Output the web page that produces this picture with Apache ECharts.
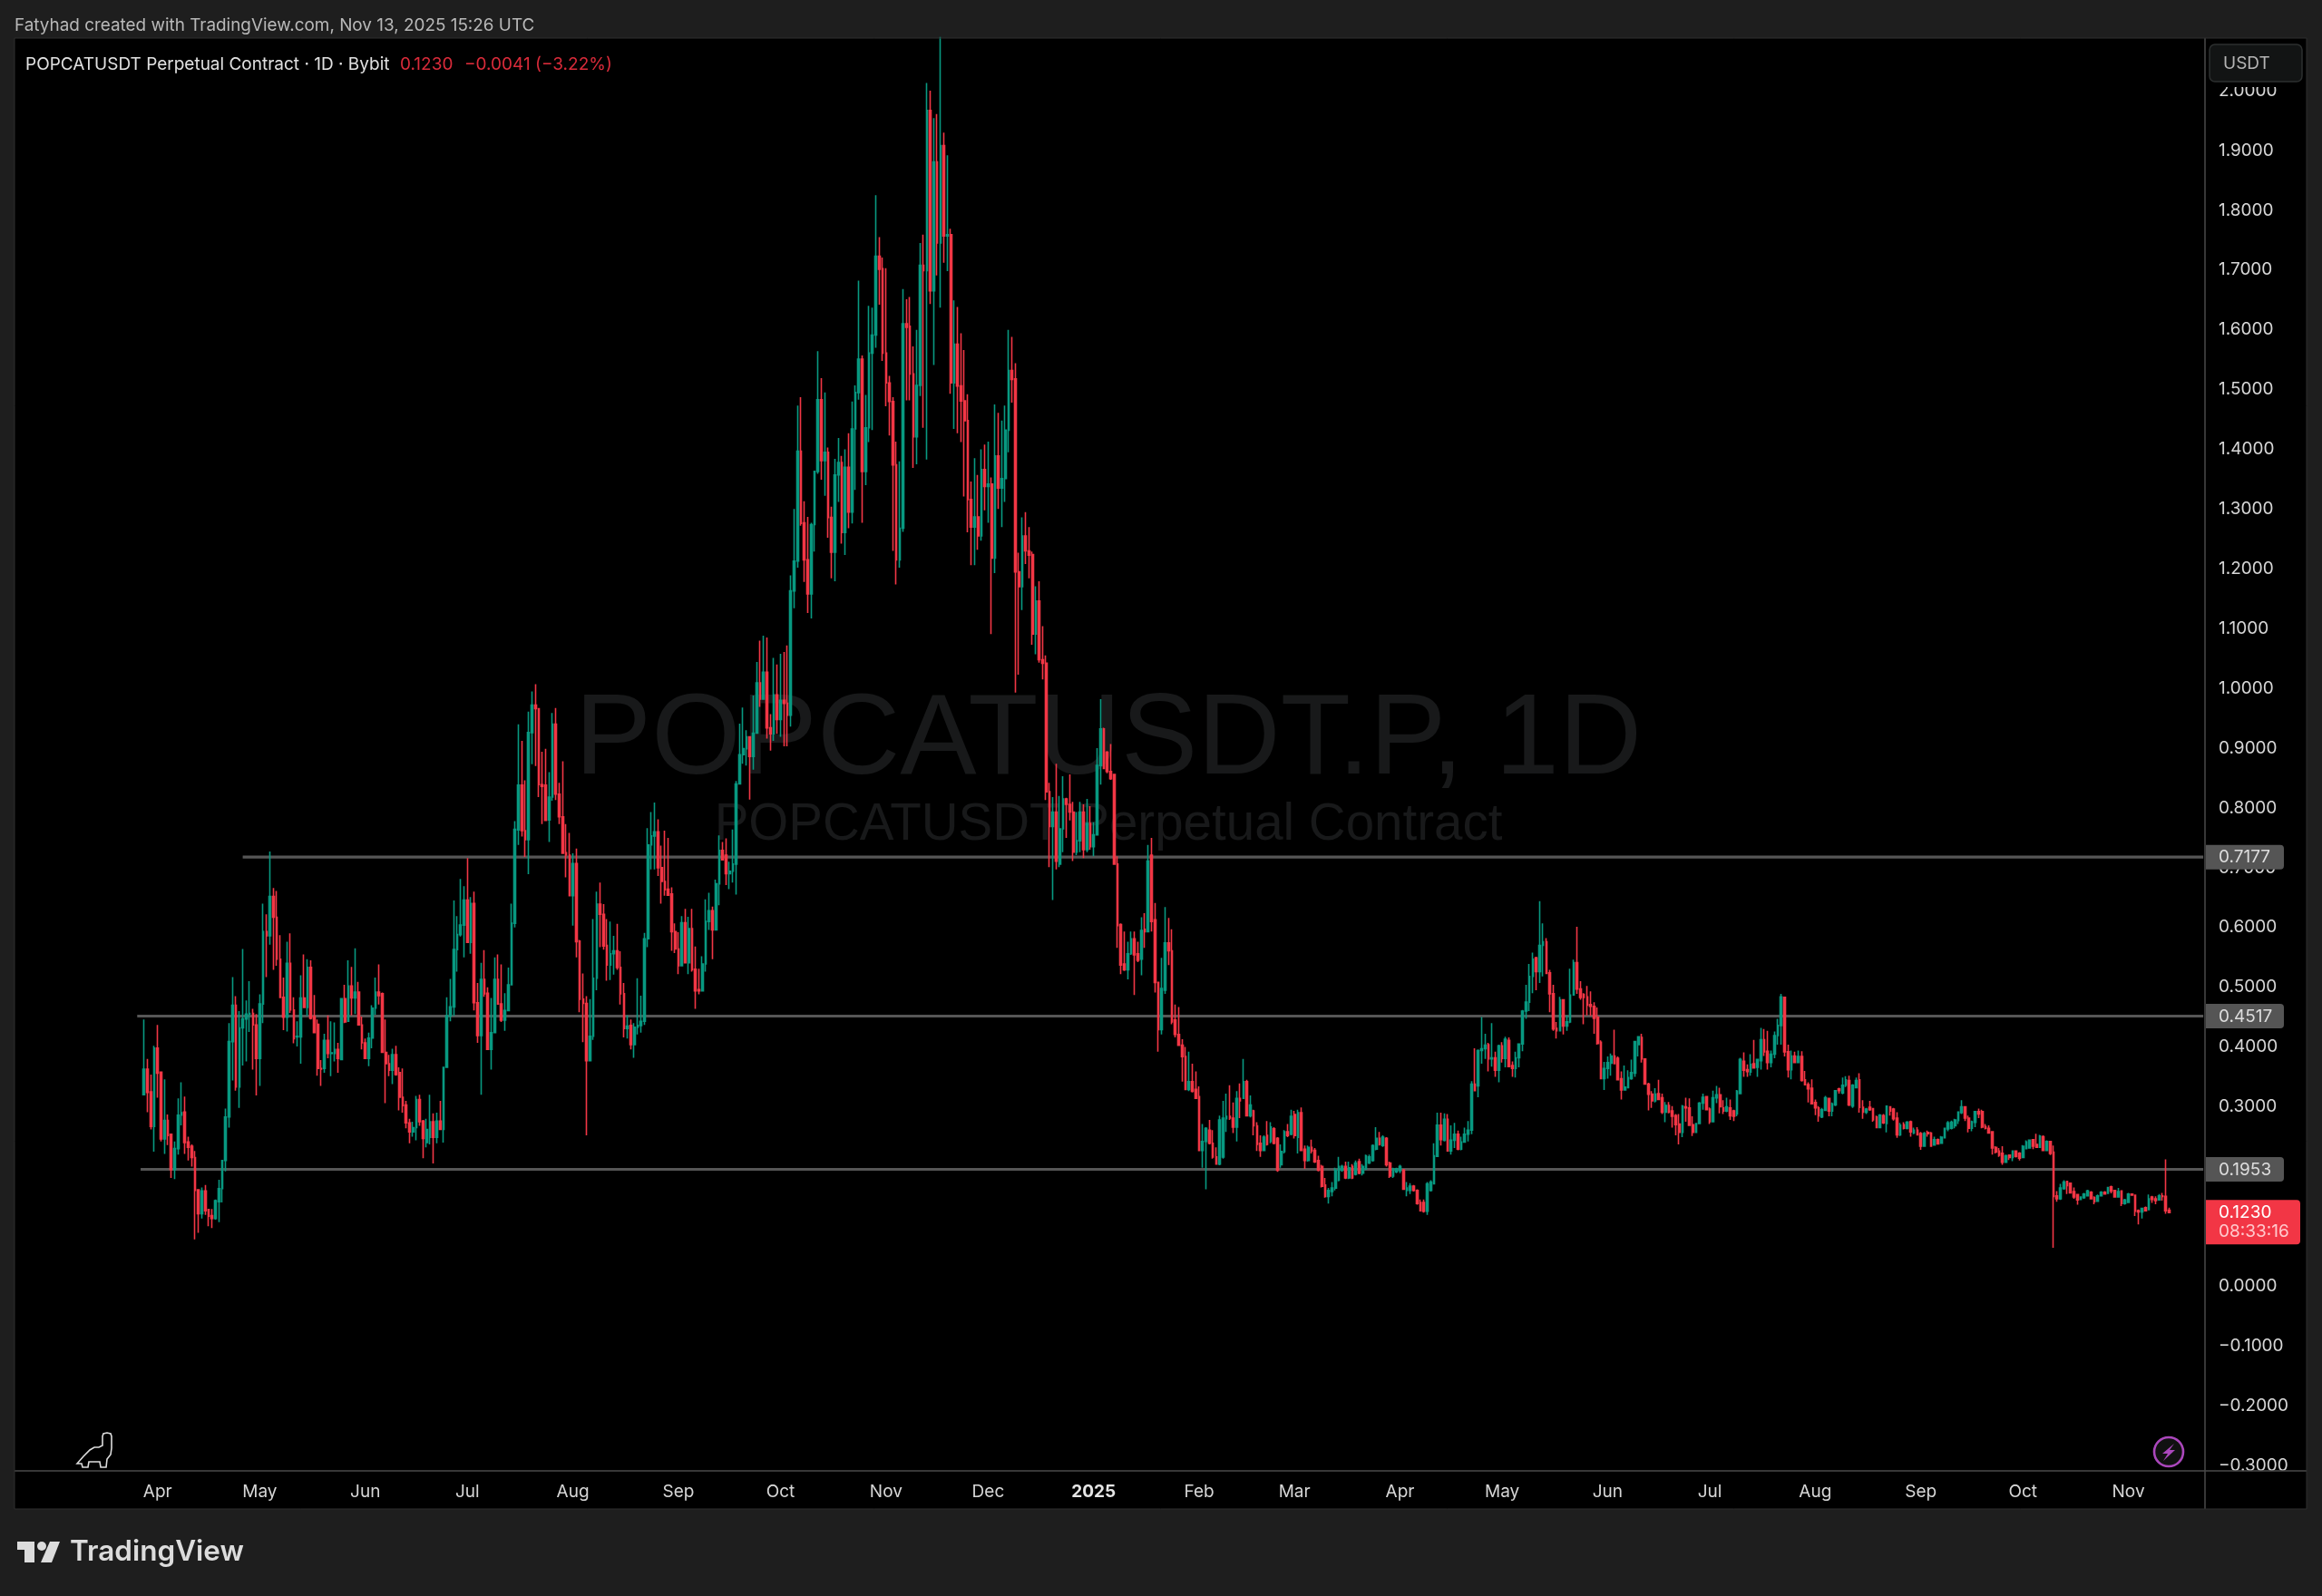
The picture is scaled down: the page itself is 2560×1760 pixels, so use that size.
<!DOCTYPE html>
<html><head><meta charset="utf-8">
<style>html,body{margin:0;padding:0;background:#1e1e1e}#c{width:2560px;height:1760px}</style>
<script src="https://cdn.jsdelivr.net/npm/echarts@6/dist/echarts.min.js"></script>
</head><body><div id="c"></div>
<script>
// each row: [open, close, low, high]
const mar24=[[.32,.363,.32,.446],[.363,.324,.291,.38],[.325,.267,.262,.354],[.267,.398,.225,.402]];
const apr24=[[.398,.356,.315,.437],[.358,.246,.242,.358],[.246,.277,.221,.346],[.277,.252,.236,.287],[.254,.195,.181,.254],[.195,.23,.179,.242],[.23,.286,.22,.314],[.286,.29,.269,.341],[.291,.24,.221,.317],[.241,.232,.21,.25],[.234,.215,.2,.237],[.215,.16,.078,.226],[.161,.121,.089,.161],[.121,.159,.113,.165],[.159,.126,.119,.169],[.128,.117,.1,.129],[.118,.113,.097,.129],[.113,.143,.111,.145],[.141,.163,.107,.178],[.163,.21,.14,.21],[.21,.283,.192,.297],[.283,.409,.265,.44],[.409,.47,.344,.517],[.47,.333,.327,.485],[.333,.432,.298,.46],[.432,.447,.369,.564],[.447,.455,.376,.478],[.455,.456,.425,.51],[.456,.437,.362,.464],[.437,.381,.319,.455]];
const may24=[[.381,.472,.335,.488],[.472,.593,.44,.64],[.593,.586,.517,.622],[.586,.652,.571,.727],[.652,.617,.529,.666],[.617,.547,.536,.661],[.547,.483,.483,.587],[.483,.45,.428,.516],[.45,.54,.426,.576],[.54,.462,.457,.59],[.462,.414,.406,.483],[.417,.418,.401,.443],[.417,.482,.372,.52],[.482,.466,.466,.555],[.466,.533,.452,.547],[.533,.448,.446,.545],[.451,.424,.423,.487],[.438,.364,.352,.446],[.364,.363,.335,.378],[.364,.411,.357,.422],[.411,.389,.381,.453],[.389,.39,.351,.443],[.389,.396,.376,.441],[.396,.381,.357,.407],[.379,.481,.379,.481],[.481,.442,.44,.504],[.443,.502,.442,.545],[.502,.482,.453,.534],[.482,.492,.455,.565],[.492,.437,.436,.509],[.437,.407,.396,.451]];
const jun24=[[.407,.381,.381,.414],[.381,.415,.368,.424],[.415,.465,.398,.47],[.465,.492,.454,.516],[.492,.486,.471,.538],[.489,.391,.391,.491],[.391,.372,.306,.446],[.372,.361,.351,.387],[.361,.387,.338,.397],[.387,.354,.352,.402],[.357,.316,.294,.366],[.316,.302,.29,.364],[.303,.273,.264,.31],[.273,.258,.239,.28],[.258,.265,.25,.275],[.265,.312,.244,.318],[.312,.275,.268,.32],[.276,.247,.214,.278],[.24,.262,.232,.28],[.249,.275,.237,.32],[.275,.249,.205,.289],[.249,.276,.239,.29],[.276,.262,.261,.31],[.262,.366,.24,.366],[.366,.452,.366,.483],[.452,.467,.443,.514],[.467,.563,.452,.645],[.563,.588,.526,.619],[.588,.604,.585,.681],[.604,.646,.55,.669]];
const jul24=[[.646,.575,.574,.716],[.575,.64,.556,.651],[.64,.474,.461,.66],[.474,.419,.407,.507],[.419,.513,.32,.541],[.513,.489,.484,.562],[.49,.396,.395,.5],[.396,.424,.362,.482],[.424,.513,.423,.55],[.513,.472,.472,.555],[.472,.445,.442,.538],[.445,.461,.427,.49],[.461,.504,.461,.533],[.504,.607,.504,.64],[.607,.764,.6,.778],[.763,.838,.738,.94],[.838,.762,.752,.912],[.762,.747,.718,.846],[.747,.926,.689,.961],[.926,.972,.873,.995],[.972,.966,.87,1.007],[.966,.839,.818,.966],[.839,.836,.773,.894],[.838,.779,.779,.899],[.78,.818,.743,.86],[.818,.94,.812,.959],[.94,.823,.813,.967],[.823,.785,.773,.842],[.785,.724,.724,.878],[.725,.721,.684,.773],[.721,.653,.653,.758]];
const aug24=[[.653,.707,.603,.724],[.707,.576,.55,.732],[.577,.48,.458,.579],[.48,.473,.408,.523],[.473,.377,.252,.485],[.377,.418,.377,.48],[.418,.515,.412,.614],[.515,.639,.495,.66],[.639,.622,.567,.675],[.622,.569,.563,.639],[.57,.537,.511,.614],[.537,.556,.512,.61],[.556,.561,.521,.586],[.561,.533,.529,.606],[.533,.489,.471,.56],[.489,.431,.416,.507],[.431,.435,.414,.453],[.436,.404,.396,.446],[.404,.433,.382,.44],[.433,.436,.421,.515],[.436,.443,.424,.486],[.443,.581,.437,.591],[.581,.738,.567,.766],[.738,.753,.697,.793],[.753,.76,.697,.809],[.76,.7,.686,.781],[.7,.677,.64,.737],[.677,.663,.653,.762],[.664,.654,.653,.75],[.656,.593,.561,.667],[.593,.564,.557,.607]];
const sep24=[[.564,.536,.522,.592],[.536,.608,.535,.619],[.608,.541,.54,.631],[.541,.598,.522,.618],[.598,.529,.526,.631],[.53,.494,.464,.568],[.496,.494,.488,.531],[.494,.539,.494,.552],[.539,.61,.526,.647],[.61,.628,.596,.658],[.628,.596,.547,.635],[.596,.673,.596,.68],[.673,.729,.637,.754],[.729,.713,.713,.743],[.721,.69,.671,.749],[.69,.694,.664,.71],[.694,.706,.675,.764],[.706,.84,.655,.845],[.84,.889,.84,.941],[.889,.899,.874,.968],[.899,.919,.871,.93],[.919,.886,.814,.919],[.886,.925,.864,.988],[.925,1.009,.925,1.044],[1.009,.982,.969,1.08],[.982,1.027,.982,1.088],[1.027,.934,.916,1.085],[.934,.924,.896,.957],[.924,.989,.912,1.051],[.989,.948,.924,1.04]];
const oct24=[[.948,.98,.919,1.058],[.98,.975,.903,1.061],[.975,.955,.903,1.072],[.955,1.163,.936,1.189],[1.163,1.213,1.134,1.3],[1.213,1.397,1.202,1.473],[1.397,1.276,1.272,1.487],[1.277,1.215,1.178,1.313],[1.215,1.158,1.126,1.287],[1.158,1.274,1.117,1.277],[1.274,1.363,1.229,1.363],[1.363,1.483,1.359,1.564],[1.483,1.381,1.349,1.519],[1.381,1.395,1.322,1.495],[1.395,1.286,1.252,1.403],[1.286,1.228,1.184,1.304],[1.228,1.357,1.179,1.384],[1.357,1.378,1.312,1.419],[1.378,1.261,1.242,1.389],[1.261,1.37,1.223,1.4],[1.37,1.295,1.268,1.427],[1.295,1.434,1.276,1.48],[1.434,1.495,1.332,1.507],[1.495,1.551,1.483,1.682],[1.551,1.363,1.277,1.557],[1.363,1.436,1.34,1.491],[1.436,1.561,1.412,1.64],[1.561,1.591,1.432,1.637],[1.591,1.723,1.57,1.825],[1.723,1.701,1.642,1.755],[1.702,1.561,1.548,1.721]];
const nov24=[[1.561,1.511,1.472,1.703],[1.511,1.48,1.423,1.523],[1.48,1.374,1.23,1.487],[1.374,1.215,1.174,1.413],[1.215,1.268,1.202,1.38],[1.268,1.61,1.262,1.668],[1.61,1.604,1.482,1.651],[1.606,1.526,1.482,1.655],[1.526,1.421,1.369,1.572],[1.421,1.507,1.375,1.6],[1.507,1.708,1.489,1.745],[1.708,1.699,1.436,1.759],[1.699,1.967,1.383,2.013],[1.967,1.665,1.643,2],[1.665,1.881,1.541,1.954],[1.881,1.745,1.691,1.961],[1.745,1.908,1.637,2.09],[1.908,1.757,1.712,1.93],[1.757,1.759,1.698,1.892],[1.759,1.511,1.493,1.769],[1.511,1.576,1.434,1.649],[1.576,1.506,1.427,1.638],[1.506,1.481,1.412,1.594],[1.481,1.448,1.321,1.566],[1.448,1.316,1.261,1.492],[1.316,1.27,1.206,1.346],[1.27,1.287,1.206,1.385],[1.287,1.255,1.232,1.357],[1.255,1.366,1.247,1.4],[1.366,1.338,1.298,1.408]];
const dec24=[[1.338,1.342,1.277,1.413],[1.342,1.218,1.091,1.353],[1.218,1.389,1.193,1.475],[1.389,1.335,1.3,1.461],[1.335,1.351,1.27,1.448],[1.351,1.432,1.312,1.473],[1.432,1.532,1.395,1.6],[1.532,1.517,1.478,1.588],[1.518,1.195,.993,1.544],[1.195,1.17,1.023,1.227],[1.17,1.255,1.131,1.286],[1.255,1.23,1.208,1.295],[1.23,1.223,1.184,1.27],[1.224,1.091,1.073,1.229],[1.091,1.146,1.057,1.171],[1.146,1.048,1.043,1.179],[1.048,1.042,1.015,1.104],[1.042,.827,.813,1.055],[.827,.769,.701,.842],[.769,.793,.646,.818],[.793,.711,.697,.874],[.706,.765,.701,.82],[.765,.815,.726,.853],[.815,.806,.75,.817],[.806,.793,.779,.856],[.793,.726,.711,.81],[.726,.745,.721,.793],[.745,.793,.726,.81],[.793,.73,.716,.806],[.73,.774,.726,.815],[.774,.735,.73,.803]];
const jan25=[[.735,.755,.719,.776],[.755,.871,.755,.9],[.871,.932,.839,.982],[.932,.866,.866,.934],[.893,.861,.858,.895],[.861,.849,.847,.907],[.856,.706,.706,.856],[.706,.603,.566,.719],[.605,.537,.522,.607],[.539,.529,.527,.593],[.529,.556,.513,.576],[.556,.581,.554,.593],[.581,.554,.487,.593],[.556,.545,.542,.576],[.547,.595,.52,.617],[.597,.593,.566,.624],[.593,.711,.593,.738],[.721,.61,.593,.75],[.613,.508,.491,.641],[.508,.429,.392,.508],[.429,.498,.421,.549],[.495,.574,.489,.634],[.574,.561,.537,.616],[.561,.442,.438,.597],[.445,.421,.416,.471],[.421,.403,.402,.467],[.403,.384,.342,.413],[.384,.329,.329,.4],[.329,.342,.326,.392],[.342,.326,.324,.372],[.329,.314,.313,.359]];
const feb25=[[.317,.227,.227,.334],[.227,.242,.198,.271],[.242,.264,.162,.266],[.261,.239,.237,.278],[.239,.216,.213,.261],[.216,.204,.203,.232],[.204,.278,.202,.285],[.216,.281,.213,.31],[.28,.284,.258,.322],[.284,.281,.278,.336],[.281,.266,.256,.307],[.266,.314,.242,.326],[.314,.31,.281,.339],[.314,.342,.313,.38],[.342,.285,.284,.345],[.285,.303,.282,.319],[.293,.268,.252,.295],[.268,.237,.226,.274],[.239,.227,.216,.252],[.227,.249,.226,.252],[.252,.237,.235,.276],[.242,.266,.239,.274],[.263,.239,.237,.266],[.247,.194,.191,.249],[.203,.225,.198,.237],[.225,.258,.222,.261],[.258,.252,.249,.271],[.254,.284,.252,.295]];
const mar25=[[.287,.252,.247,.293],[.249,.29,.222,.295],[.29,.227,.227,.299],[.229,.21,.196,.235],[.21,.232,.208,.235],[.232,.226,.222,.245],[.227,.208,.206,.231],[.21,.194,.192,.218],[.2,.167,.165,.203],[.169,.15,.148,.181],[.15,.16,.138,.164],[.158,.164,.15,.174],[.164,.194,.16,.198],[.177,.2,.175,.216],[.194,.2,.191,.203],[.2,.181,.179,.208],[.181,.198,.179,.208],[.2,.181,.179,.204],[.187,.206,.185,.21],[.208,.189,.187,.213],[.189,.2,.185,.204],[.196,.218,.194,.22],[.206,.216,.204,.22],[.21,.235,.208,.237],[.229,.247,.227,.266],[.247,.237,.235,.258],[.235,.249,.233,.252],[.247,.203,.2,.249],[.206,.184,.181,.208],[.184,.196,.181,.198],[.191,.196,.189,.198]];
const apr25=[[.193,.2,.189,.203],[.194,.162,.162,.196],[.16,.164,.15,.174],[.16,.167,.154,.172],[.167,.16,.158,.169],[.16,.138,.136,.162],[.14,.126,.125,.145],[.14,.125,.123,.145],[.125,.171,.119,.174],[.16,.174,.158,.177],[.171,.218,.171,.239],[.217,.269,.217,.29],[.269,.245,.235,.29],[.244,.279,.242,.289],[.279,.226,.225,.288],[.226,.244,.22,.269],[.244,.254,.231,.273],[.254,.229,.227,.26],[.229,.241,.227,.25],[.241,.254,.24,.265],[.254,.261,.242,.276],[.261,.338,.254,.343],[.338,.327,.327,.398],[.335,.394,.316,.396],[.394,.397,.372,.45],[.397,.403,.38,.422],[.404,.38,.359,.407],[.38,.382,.367,.44],[.382,.361,.35,.392],[.361,.402,.341,.404]];
const may25=[[.402,.381,.374,.408],[.381,.413,.366,.417],[.411,.367,.366,.416],[.369,.364,.35,.376],[.364,.382,.349,.392],[.382,.405,.366,.406],[.405,.46,.393,.462],[.46,.475,.447,.504],[.475,.518,.46,.539],[.518,.547,.49,.558],[.549,.526,.495,.551],[.526,.57,.507,.644],[.57,.576,.518,.607],[.576,.523,.522,.582],[.524,.489,.458,.529],[.489,.43,.427,.504],[.431,.427,.414,.442],[.427,.479,.426,.484],[.479,.435,.421,.48],[.435,.442,.427,.453],[.442,.487,.44,.531],[.487,.541,.487,.546],[.541,.497,.489,.601],[.497,.483,.479,.51],[.488,.483,.438,.49],[.484,.47,.453,.502],[.471,.468,.452,.493],[.468,.448,.422,.475],[.45,.406,.404,.466],[.408,.347,.347,.411],[.347,.364,.328,.375]];
const jun25=[[.364,.374,.347,.384],[.373,.385,.352,.389],[.385,.372,.372,.429],[.381,.345,.344,.384],[.347,.328,.312,.359],[.328,.333,.328,.369],[.332,.349,.331,.361],[.347,.357,.345,.379],[.356,.409,.35,.409],[.404,.417,.384,.418],[.416,.38,.374,.422],[.38,.338,.337,.381],[.338,.321,.294,.34],[.321,.31,.298,.326],[.31,.321,.307,.331],[.322,.312,.312,.345],[.315,.291,.288,.322],[.291,.302,.274,.308],[.302,.291,.289,.308],[.293,.284,.265,.301],[.285,.27,.252,.288],[.271,.257,.237,.288],[.257,.301,.249,.303],[.3,.298,.275,.315],[.298,.269,.268,.314],[.27,.257,.251,.284],[.257,.272,.257,.273],[.272,.306,.271,.308],[.306,.316,.295,.322],[.317,.295,.294,.318]];
const jul25=[[.296,.275,.271,.299],[.275,.315,.274,.327],[.315,.32,.306,.335],[.32,.3,.289,.332],[.298,.293,.288,.311],[.293,.3,.291,.315],[.298,.285,.278,.312],[.293,.284,.276,.295],[.288,.326,.284,.328],[.322,.379,.321,.382],[.376,.361,.35,.391],[.362,.359,.35,.371],[.358,.371,.352,.388],[.372,.365,.364,.412],[.366,.379,.35,.38],[.377,.412,.362,.432],[.412,.392,.385,.43],[.393,.374,.362,.427],[.374,.388,.366,.394],[.388,.419,.381,.426],[.419,.436,.404,.447],[.436,.484,.404,.489],[.483,.392,.384,.483],[.392,.362,.349,.404],[.362,.385,.346,.394],[.385,.374,.373,.392],[.374,.384,.373,.394],[.384,.344,.342,.393],[.345,.337,.336,.36],[.337,.33,.307,.341],[.331,.305,.304,.346]];
const aug25=[[.307,.298,.286,.312],[.298,.285,.275,.301],[.283,.295,.281,.298],[.294,.315,.293,.318],[.314,.293,.284,.315],[.293,.305,.284,.307],[.303,.327,.301,.328],[.33,.327,.322,.332],[.323,.336,.321,.349],[.336,.345,.333,.351],[.344,.303,.301,.352],[.301,.336,.298,.338],[.332,.344,.331,.349],[.345,.299,.29,.356],[.299,.291,.28,.311],[.291,.296,.288,.298],[.299,.295,.293,.31],[.297,.278,.275,.298],[.283,.265,.264,.285],[.265,.286,.264,.288],[.285,.273,.271,.288],[.272,.301,.257,.302],[.3,.293,.285,.301],[.296,.28,.277,.298],[.281,.253,.248,.291],[.253,.269,.251,.273],[.27,.264,.262,.274],[.264,.274,.262,.276],[.275,.258,.25,.277],[.256,.261,.254,.265],[.261,.253,.252,.266]];
const sep25=[[.255,.234,.228,.258],[.234,.255,.233,.258],[.257,.255,.25,.26],[.256,.234,.233,.258],[.236,.245,.235,.25],[.245,.238,.237,.247],[.239,.249,.238,.251],[.248,.264,.247,.265],[.263,.273,.259,.276],[.264,.274,.262,.277],[.268,.278,.264,.28],[.277,.291,.271,.292],[.29,.3,.288,.311],[.3,.281,.276,.301],[.281,.264,.257,.285],[.264,.275,.259,.277],[.274,.292,.266,.293],[.292,.288,.281,.297],[.292,.266,.264,.295],[.267,.264,.262,.271],[.264,.256,.255,.269],[.258,.231,.22,.259],[.232,.224,.222,.234],[.226,.219,.216,.231],[.222,.207,.203,.234],[.207,.218,.206,.22],[.219,.215,.211,.22],[.215,.226,.209,.227],[.226,.217,.215,.227],[.222,.214,.21,.224]];
const oct25=[[.215,.234,.214,.236],[.23,.241,.229,.244],[.231,.244,.23,.245],[.245,.234,.229,.245],[.237,.232,.231,.255],[.232,.251,.231,.253],[.25,.227,.226,.252],[.227,.242,.226,.244],[.242,.222,.219,.242],[.224,.15,.064,.235],[.151,.146,.141,.159],[.146,.164,.144,.171],[.163,.174,.161,.177],[.175,.168,.154,.176],[.172,.156,.155,.173],[.158,.149,.146,.165],[.153,.144,.136,.154],[.145,.149,.144,.15],[.148,.154,.146,.156],[.151,.159,.15,.161],[.157,.146,.145,.159],[.148,.141,.137,.15],[.142,.151,.141,.153],[.151,.157,.15,.159],[.157,.154,.153,.159],[.155,.165,.154,.166],[.166,.159,.155,.168],[.16,.149,.148,.161],[.149,.158,.148,.164],[.159,.138,.134,.16],[.138,.144,.136,.146]];
const nov25=[[.14,.154,.139,.156],[.154,.152,.151,.155],[.152,.125,.117,.153],[.126,.124,.103,.128],[.124,.13,.113,.131],[.131,.126,.125,.133],[.128,.146,.127,.153],[.149,.145,.139,.151],[.146,.143,.137,.15],[.144,.151,.143,.154],[.151,.15,.143,.156],[.15,.126,.121,.212],[.1271,.123,.1215,.131]];

const yTicks=[-.3,-.2,-.1,0,.1,.2,.3,.4,.5,.6,.7,.8,.9,1,1.1,1.2,1.3,1.4,1.5,1.6,1.7,1.8,1.9,2];
const levels=[{value:.7177,from:67},{value:.4517,from:36},{value:.1953,from:37}];
const monthNames=['2025','Feb','Mar','Apr','May','Jun','Jul','Aug','Sep','Oct','Nov','Dec'];
const lastPrice=.123, countdown='08:33:16';
const firstDay=Date.UTC(2024,2,28), LEAD=38, TRAIL=10;

const candles=[mar24,apr24,may24,jun24,jul24,aug24,sep24,oct24,nov24,dec24,jan25,feb25,mar25,apr25,may25,jun25,jul25,aug25,sep25,oct25,nov25].flat();
const N=LEAD+candles.length+TRAIL;
const days=[...Array(N).keys()].map(i=>new Date(firstDay+(i-LEAD)*864e5));
const categories=days.map(d=>d.toISOString().slice(0,10));
const padded=[...Array(LEAD).fill(['-','-','-','-']),...candles];

const el=document.getElementById('c');
const chart=echarts.init(el,null,{width:2560,height:1760});
const UI='Inter, Roboto, sans-serif', UP='#089981', DOWN='#F23645';
const option={
  animation:false,backgroundColor:'#1e1e1e',
  grid:{left:14.3,right:129,top:42,bottom:138,containLabel:false},
  tooltip:{show:false},
  xAxis:{type:'category',data:categories,boundaryGap:true,
    axisLine:{show:false},axisTick:{show:false},splitLine:{show:false},
    axisLabel:{color:'#d6d6d6',fontFamily:UI,fontSize:19,margin:14,
      interval:(i)=>i>=LEAD&&days[i].getUTCDate()===1,
      formatter:(v)=>{const m=new Date(v+'T00:00:00Z').getUTCMonth();return m===0?'{b|2025}':monthNames[m];},
      rich:{b:{fontWeight:700,color:'#e6e6e6',fontFamily:UI,fontSize:19}}}},
  yAxis:{type:'value',position:'right',min:-.3092,max:2.088,scale:true,
    axisLine:{show:false},axisTick:{show:false},splitLine:{show:false},
    axisLabel:{customValues:yTicks,color:'#d6d6d6',fontFamily:UI,fontSize:19,margin:15,padding:[4,0,0,0],
      formatter:(v)=>(v<-1e-9?'\u2212':'')+Math.abs(v).toFixed(4)}},
  series:[
    ...levels.map(l=>({type:'line',silent:true,symbol:'none',z:1,clip:true,
      lineStyle:{color:'#565656',width:3.2},
      data:[[categories[l.from],l.value],[categories[N-1],l.value]]})),
    {type:'candlestick',data:padded,barWidth:2.2,large:false,z:2,silent:true,
     itemStyle:{color:UP,color0:DOWN,borderColor:UP,borderColor0:DOWN,borderWidth:1.6}}
  ]
};
chart.setOption(option);

const py=v=>chart.convertToPixel({yAxisIndex:0},v);
const txt=(text,x,y,fill,font,extra={})=>({type:'text',z:extra.z??6,style:{text,x,y,fill,font,textVerticalAlign:'middle',textAlign:extra.align||'left'}});
const rect=(x,y,width,height,fill,extra={})=>({type:'rect',z:extra.z??-3,shape:{x,y,width,height,r:extra.r||0},style:{fill,stroke:extra.stroke||null,lineWidth:extra.lw||0}});
const line=(x1,y1,x2,y2,c,z=4,w=1.5)=>({type:'line',z,shape:{x1,y1,x2,y2},style:{stroke:c,lineWidth:w}});
const tag=(v)=>{const y=py(v);return [rect(2432,y-13.5,86,27,'#555555',{z:5,r:[0,4,4,0]}),txt(v.toFixed(4),2446,y+.5,'#dddddd','19px '+UI)];};
const ly=py(lastPrice);
const HF='"Liberation Sans", Arial, sans-serif';
const dino=[[85,1614],[92,1606],[99,1599],[104,1596],[109,1596],[113,1594],[113,1584],[114,1581],[118,1580],[122,1581],[123,1584],[123,1597],[122,1604],[118,1609],[117,1618],[111,1618],[110,1612],[98,1612],[97,1618],[91,1618],[90,1614]];
chart.setOption({graphic:{elements:[
  rect(16,42,2527,1622,'#000000',{z:-3}),
  txt('POPCATUSDT.P, 1D',1222,818,'#18191a','126.5px '+HF,{z:-1,align:'center'}),
  txt('POPCATUSDT Perpetual Contract',1222,910,'#18191a','56.5px '+HF,{z:-1,align:'center'}),
  rect(2432,1623,111,41,'#000000',{z:3}),
  line(16,1622,2543,1622,'#4a4a4a'),
  line(2431,42,2431,1664,'#4a4a4a'),
  rect(16,42,2527,1622,'transparent',{z:4,stroke:'#2e2e2e',lw:1}),
  txt('Fatyhad created with TradingView.com, Nov 13, 2025 15:26 UTC',16,28,'#b8b8b8','18.9px '+UI),
  txt('POPCATUSDT Perpetual Contract \u00b7 1D \u00b7 Bybit',28,71,'#e0e0e0','19px '+UI),
  txt('0.1230',441,71,'#d92b3a','19px '+UI),
  txt('\u22120.0041 (\u22123.22%)',512,71,'#d92b3a','19px '+UI),
  rect(2436,90,102,6,'#000000',{z:4}),
  rect(2436,49,102,41,'#121414',{z:5,r:6,stroke:'#2c2f2f',lw:1.5}),
  txt('USDT',2451,70,'#b4b4b4','19px '+UI),
  ...levels.flatMap(l=>tag(l.value)),
  rect(2432,ly-14,104,49,'#F23645',{z:5,r:[0,4,4,0]}),
  txt(lastPrice.toFixed(4),2446,ly+.5,'#ffffff','19px '+UI),
  txt(countdown,2446,ly+21,'#ffc9cd','19px '+UI),
  {type:'polygon',z:6,shape:{points:[[19,1700],[38,1700],[38,1723],[27,1723],[27,1709],[19,1709]]},style:{fill:'#dcdcdc'}},
  {type:'polygon',z:6,shape:{points:[[55,1700],[66,1700],[57,1723],[45,1723]]},style:{fill:'#dcdcdc'}},
  {type:'circle',z:6,shape:{cx:46,cy:1705,r:5},style:{fill:'#dcdcdc'}},
  txt('TradingView',77,1712,'#dcdcdc','600 31.5px '+UI),
  {type:'polygon',z:6,shape:{points:dino},style:{fill:'#000000',stroke:'#dddddd',lineWidth:1.6}},
  {type:'circle',z:6,shape:{cx:2391,cy:1601,r:16},style:{fill:'#111111',stroke:'#ab47bc',lineWidth:2.6}},
  {type:'polygon',z:7,shape:{points:[[2397,1592],[2384,1603],[2390,1603],[2385,1611],[2398,1599],[2392,1599]]},style:{fill:'#ab47bc'}}
]}});
</script></body></html>
